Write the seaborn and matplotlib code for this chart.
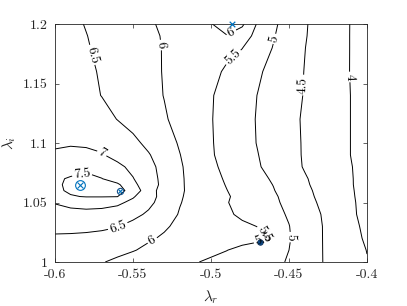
import numpy as np
import matplotlib
matplotlib.use("Agg")
import matplotlib.pyplot as plt
import seaborn as sns

# ---- data ----
lam_r = [-0.60, -0.59, -0.58, -0.57, -0.56, -0.55, -0.54, -0.53, -0.52, -0.51, -0.50,
         -0.49, -0.48, -0.47, -0.46, -0.45, -0.44, -0.43, -0.42, -0.41, -0.40]
lam_i = [1.00, 1.01, 1.02, 1.03, 1.04, 1.05, 1.055, 1.06, 1.065, 1.07, 1.08,
         1.09, 1.10, 1.12, 1.14, 1.16, 1.18, 1.19, 1.20]
row_100 = [6.20, 6.15, 6.09, 6.02, 5.93, 5.85, 5.77, 5.69, 5.61, 5.52, 5.44, 5.35, 5.26, 5.17, 5.08, 4.97, 4.75, 4.53, 4.35, 4.18, 4.02]
row_101 = [6.30, 6.28, 6.25, 6.20, 6.10, 6.02, 5.93, 5.85, 5.76, 5.67, 5.59, 5.51, 5.39, 5.26, 5.13, 5.00, 4.77, 4.53, 4.34, 4.17, 3.99]
row_102 = [6.44, 6.43, 6.41, 6.38, 6.30, 6.15, 6.04, 5.96, 5.92, 5.85, 5.78, 5.72, 5.66, 5.62, 5.44, 5.03, 4.77, 4.53, 4.33, 4.13, 3.94]
row_103 = [6.61, 6.61, 6.60, 6.57, 6.52, 6.37, 6.20, 6.04, 5.93, 5.85, 5.76, 5.67, 5.58, 5.49, 5.25, 5.01, 4.77, 4.53, 4.32, 4.11, 3.90]
row_104 = [6.85, 6.86, 6.86, 6.82, 6.74, 6.62, 6.43, 6.19, 5.97, 5.84, 5.70, 5.57, 5.42, 5.27, 5.12, 4.96, 4.73, 4.51, 4.28, 4.06, 3.88]
row_105 = [7.02, 7.12, 7.18, 7.18, 7.10, 6.88, 6.61, 6.31, 6.02, 5.85, 5.69, 5.52, 5.37, 5.23, 5.08, 4.89, 4.67, 4.45, 4.25, 4.05, 3.87]
row_1055 = [7.35, 7.47, 7.52, 7.52, 7.51, 7.05, 6.67, 6.34, 6.04, 5.86, 5.70, 5.54, 5.38, 5.22, 5.06, 4.86, 4.63, 4.42, 4.23, 4.04, 3.86]
row_106 = [7.42, 7.56, 7.63, 7.64, 7.63, 7.36, 6.64, 6.36, 6.06, 5.86, 5.68, 5.51, 5.34, 5.18, 5.02, 4.81, 4.60, 4.40, 4.21, 4.03, 3.86]
row_1065 = [7.43, 7.58, 7.66, 7.62, 7.58, 7.12, 6.71, 6.38, 6.06, 5.85, 5.66, 5.48, 5.31, 5.15, 4.99, 4.78, 4.56, 4.38, 4.20, 4.02, 3.86]
row_107 = [7.42, 7.55, 7.62, 7.51, 7.27, 7.02, 6.69, 6.37, 6.06, 5.84, 5.64, 5.45, 5.28, 5.12, 4.95, 4.74, 4.54, 4.36, 4.19, 4.02, 3.85]
row_108 = [7.15, 7.28, 7.38, 7.28, 7.10, 6.89, 6.63, 6.35, 6.05, 5.81, 5.59, 5.39, 5.22, 5.04, 4.85, 4.66, 4.47, 4.32, 4.16, 4.01, 3.86]
row_109 = [7.05, 7.08, 7.08, 7.03, 6.86, 6.69, 6.53, 6.28, 6.01, 5.78, 5.54, 5.36, 5.18, 5.01, 4.82, 4.64, 4.46, 4.30, 4.15, 3.99, 3.85]
row_110 = [6.95, 6.97, 6.95, 6.88, 6.78, 6.60, 6.40, 6.18, 5.96, 5.74, 5.53, 5.35, 5.16, 4.98, 4.81, 4.63, 4.46, 4.30, 4.15, 3.99, 3.84]
row_112 = [6.90, 6.84, 6.75, 6.65, 6.49, 6.35, 6.20, 6.04, 5.88, 5.70, 5.52, 5.34, 5.15, 4.97, 4.80, 4.62, 4.45, 4.30, 4.15, 3.99, 3.83]
row_114 = [6.85, 6.75, 6.62, 6.49, 6.37, 6.25, 6.12, 5.99, 5.84, 5.69, 5.53, 5.36, 5.17, 4.99, 4.82, 4.65, 4.48, 4.31, 4.15, 3.99, 3.82]
row_116 = [6.82, 6.70, 6.58, 6.46, 6.34, 6.22, 6.10, 5.98, 5.85, 5.72, 5.60, 5.45, 5.25, 5.06, 4.87, 4.68, 4.49, 4.32, 4.15, 3.98, 3.81]
row_118 = [6.745, 6.64, 6.53, 6.42, 6.31, 6.20, 6.09, 5.98, 5.885, 5.79, 5.69, 5.60, 5.51, 5.24, 4.98, 4.75, 4.51, 4.33, 4.16, 3.98, 3.81]
row_119 = [6.72, 6.61, 6.51, 6.40, 6.29, 6.18, 6.08, 5.97, 5.90, 5.88, 5.92, 5.99, 5.75, 5.33, 5.03, 4.77, 4.53, 4.34, 4.16, 3.98, 3.81]
row_120 = [6.69, 6.59, 6.48, 6.37, 6.26, 6.15, 6.04, 5.95, 5.90, 5.92, 5.99, 6.10, 6.08, 5.44, 5.08, 4.80, 4.54, 4.35, 4.17, 3.98, 3.80]
levels = [4, 4.5, 5, 5.5, 6, 6.5, 7, 7.5]

# markers
opt_circle_x = [-0.584, -0.5583]
opt_circle_y = [1.0647, 1.0597]
top_x, top_y = [-0.4865], [1.2]
dot_x, dot_y = [-0.4686], [1.0168]

x_ticks = [-0.6, -0.55, -0.5, -0.45, -0.4]
x_ticklabels = ["-0.6", "-0.55", "-0.5", "-0.45", "-0.4"]
y_ticks = [1.0, 1.05, 1.1, 1.15, 1.2]
y_ticklabels = ["1", "1.05", "1.1", "1.15", "1.2"]

label_pos = [(-0.5763, 1.174), (-0.5314, 1.1824), (-0.4878, 1.195), (-0.4859, 1.1723),
             (-0.459, 1.1874), (-0.441, 1.1487), (-0.4109, 1.1555), (-0.5699, 1.0916),
             (-0.5827, 1.0748), (-0.5596, 1.0294), (-0.5378, 1.0185), (-0.4481, 1.021),
             (-0.4640, 1.0255), (-0.4622, 1.0150)]

Z = np.array([row_100, row_101, row_102, row_103, row_104, row_105, row_1055, row_106,
              row_1065, row_107, row_108, row_109, row_110, row_112, row_114, row_116,
              row_118, row_119, row_120])

# ---- style ----
sns.set_style("ticks")
plt.rcParams.update({
    "font.family": "cmr10",
    "mathtext.fontset": "cm",
    "axes.unicode_minus": False,
    "axes.formatter.use_mathtext": True,
})

fig = plt.figure(figsize=(4.07, 3.06), dpi=100)
ax = fig.add_axes([55 / 407, 44 / 306, 312 / 407, 238 / 306])

cs = ax.contour(lam_r, lam_i, Z, levels=levels, colors="k", linewidths=0.7)
lbls = ax.clabel(cs, levels, manual=label_pos, inline=True, inline_spacing=2,
                 fontsize=9.5, fmt=lambda v: f"{v:g}")

blue = "#0072BD"
ax.plot(opt_circle_x[:1], opt_circle_y[:1], "o", mfc="none", mec=blue, ms=7, mew=0.8)
ax.plot(opt_circle_x[:1], opt_circle_y[:1], "x", color=blue, ms=5, mew=0.8)
ax.plot(opt_circle_x[1:], opt_circle_y[1:], "o", mfc="none", mec="#1a4f86", ms=4.5, mew=0.8)
ax.plot(opt_circle_x[1:], opt_circle_y[1:], "x", color=blue, ms=3.5, mew=0.8)
sns.scatterplot(x=top_x, y=top_y, marker="x", color=blue, s=16, linewidth=0.9, ax=ax,
                clip_on=False, zorder=5)
ax.plot(dot_x, dot_y, "o", mfc="#0b4a8a", mec="#16365e", ms=4, mew=0.6)

ax.set_xlim(-0.6, -0.4)
ax.set_ylim(1.0, 1.2)
ax.set_xticks(x_ticks)
ax.set_xticklabels(x_ticklabels)
ax.set_yticks(y_ticks)
ax.set_yticklabels(y_ticklabels)
ax.tick_params(direction="in", top=True, right=True, length=3, width=0.5,
               color="#262626", labelsize=10, pad=5, labelcolor="#262626")
for s in ax.spines.values():
    s.set_linewidth(0.6)
    s.set_color("#262626")

ax.set_xlabel(r"$\lambda_r$", fontsize=11)
ax.set_ylabel(r"$\lambda_i$", fontsize=11)
ax.xaxis.set_label_coords(0.5, -0.11)
ax.yaxis.set_label_coords(-0.12, 0.5)

fig.savefig("out.png", dpi=100)
